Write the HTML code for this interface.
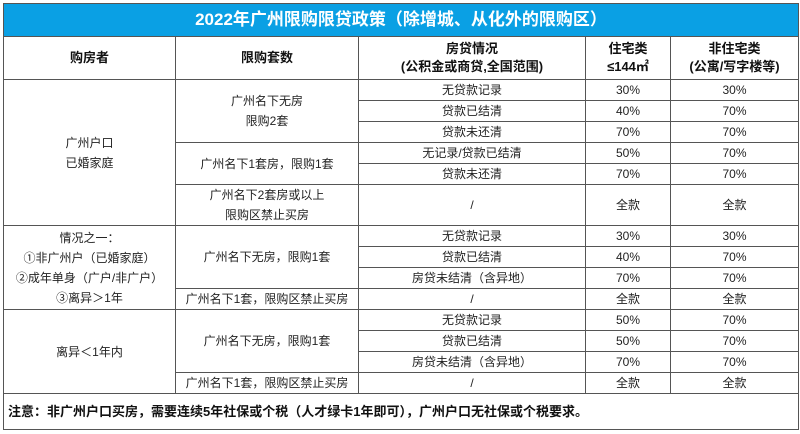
<!DOCTYPE html>
<html><head><meta charset="utf-8"><style>
body{margin:0;background:#fff;width:800px;height:434px;overflow:hidden;font-family:"Liberation Sans","Noto Sans CJK SC",sans-serif;}
table{position:absolute;left:3px;top:3px;border-collapse:collapse;table-layout:fixed;width:795px;}
td{border:1px solid #555;padding:0;text-align:center;font-size:12px;color:#222;line-height:20px;overflow:hidden;}
.t{background:#0aa0e4;color:#fff;font-weight:bold;font-size:17px;height:32px;}
.h td{font-weight:bold;font-size:13px;line-height:18px;height:42px;color:#111;}
tr.r td{height:20px;}
.f{text-align:left;font-weight:bold;font-size:13px;padding-left:4px;height:35px;color:#111;}
</style></head><body>
<table>
<colgroup><col style="width:172px"><col style="width:183px"><col style="width:227px"><col style="width:85px"><col style="width:128px"></colgroup>
<tr><td class="t" colspan="5">2022年广州限购限贷政策（除增城、从化外的限购区）</td></tr>
<tr class="h"><td>购房者</td><td>限购套数</td><td>房贷情况<br>(公积金或商贷,全国范围)</td><td>住宅类<br>≤144㎡</td><td>非住宅类<br>(公寓/写字楼等)</td></tr>
<tr class="r"><td rowspan="6">广州户口<br>已婚家庭</td><td rowspan="3">广州名下无房<br>限购2套</td><td>无贷款记录</td><td>30%</td><td>30%</td></tr>
<tr class="r"><td>贷款已结清</td><td>40%</td><td>70%</td></tr>
<tr class="r"><td>贷款未还清</td><td>70%</td><td>70%</td></tr>
<tr class="r"><td rowspan="2">广州名下1套房，限购1套</td><td>无记录/贷款已结清</td><td>50%</td><td>70%</td></tr>
<tr class="r"><td>贷款未还清</td><td>70%</td><td>70%</td></tr>
<tr><td style="height:40px">广州名下2套房或以上<br>限购区禁止买房</td><td>/</td><td>全款</td><td>全款</td></tr>
<tr class="r"><td rowspan="4">情况之一：<br>①非广州户（已婚家庭）<br>②成年单身（广户/非广户）<br>③离异＞1年</td><td rowspan="3">广州名下无房，限购1套</td><td>无贷款记录</td><td>30%</td><td>30%</td></tr>
<tr class="r"><td>贷款已结清</td><td>40%</td><td>70%</td></tr>
<tr class="r"><td>房贷未结清（含异地）</td><td>70%</td><td>70%</td></tr>
<tr class="r"><td>广州名下1套，限购区禁止买房</td><td>/</td><td>全款</td><td>全款</td></tr>
<tr class="r"><td rowspan="4">离异＜1年内</td><td rowspan="3">广州名下无房，限购1套</td><td>无贷款记录</td><td>50%</td><td>70%</td></tr>
<tr class="r"><td>贷款已结清</td><td>50%</td><td>70%</td></tr>
<tr class="r"><td>房贷未结清（含异地）</td><td>70%</td><td>70%</td></tr>
<tr class="r"><td>广州名下1套，限购区禁止买房</td><td>/</td><td>全款</td><td>全款</td></tr>
<tr><td class="f" colspan="5">注意：非广州户口买房，需要连续5年社保或个税（人才绿卡1年即可），广州户口无社保或个税要求。</td></tr>
</table>
</body></html>
